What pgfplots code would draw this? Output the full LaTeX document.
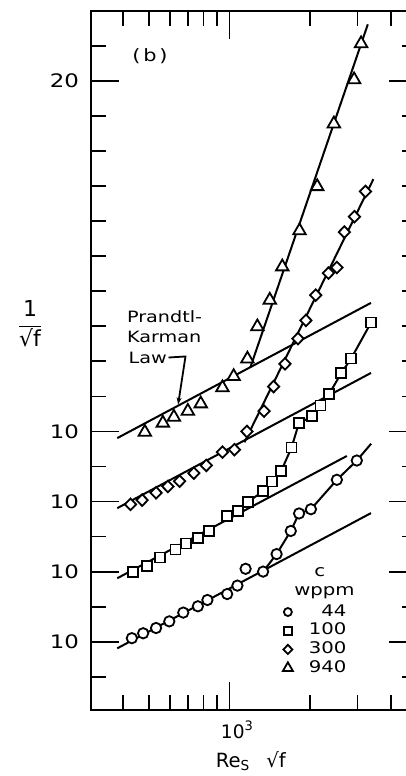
\documentclass[border=0pt]{standalone}
\usepackage{fontspec}
\setmainfont{DejaVu Sans}[FakeStretch=1.23]
\newfontfamily\plain{DejaVu Sans}
\usepackage{pgfplots}
\pgfplotsset{compat=1.18}
\usetikzlibrary{arrows.meta}

\begin{document}
\begin{tikzpicture}
\begin{axis}[
  at={(0,0)}, anchor=south west,
  scale only axis, width=163pt, height=349.5pt,
  clip=false,
  xmode=log, xmin=305, xmax=5000,
  ymin=2.05, ymax=22,
  xtick={1000}, xticklabels={10\textsuperscript{3}},
  minor xtick={400,500,600,700,800,900,2000,3000,4000},
  ytick={4,6,8,10,20}, yticklabels={10,10,10,10,20},
  minor ytick={3,5,7,9,11,12,...,19,21},
  major tick length=14pt, minor tick length=7.5pt,
  tick style={black, line width=0.9pt},
  axis line style={line width=1pt},
  yticklabel style={font=\fontsize{9.3}{11}\selectfont, xshift=-2.5pt},
  xticklabel style={font=\plain\fontsize{9.3}{11}\selectfont, xshift=4pt, yshift=-2pt},
  xlabel={Re\textsubscript{S}\hspace{8pt}√f},
  xlabel style={at={(axis description cs:0.49,-0.082)}, anchor=base,
    font=\plain\fontsize{9.8}{12}\selectfont},
  legend style={draw=none, fill=none, at={(axis description cs:0.791,0.1536)},
    anchor=north east, inner sep=0pt, row sep=0.35pt,
    font=\fontsize{8}{9}\selectfont,
    nodes={inner sep=1pt, text height=5.5pt, text depth=1.5pt},
    /tikz/every odd column/.append style={column sep=7pt}},
  legend cell align=right,
]
% Prandtl-Karman lines
\addplot[black, line width=1pt, forget plot] coordinates {(382,9.81) (3370,13.67)};
\addplot[black, line width=1pt, forget plot] coordinates {(382,7.81) (3370,11.67)};
\addplot[black, line width=1pt, forget plot] coordinates {(382,5.81) (2739,9.30)};
\addplot[black, line width=1pt, forget plot] coordinates {(382,3.81) (3370,7.67)};
% drag reduction branches
\addplot[black, line width=1pt, forget plot] coordinates {(1197,11.83) (3279,21.62)};
\addplot[black, line width=1pt, forget plot] coordinates {(1137,9.69) (3439,17.2)};
\addplot[black, line width=1pt, forget plot] coordinates {
  (1080,7.74) (1172,7.99) (1335,8.29) (1441,8.57) (1561,8.88) (1704,9.54)
  (1816,10.24) (2035,10.43) (2185,10.74) (2353,11.07) (2608,11.66) (2841,12.08) (3373,13.11)};
\addplot[black, line width=1pt, forget plot] coordinates {
  (1335,6.00) (1499,6.50) (1693,7.16) (1818,7.66) (2012,7.78) (2514,8.62) (2983,9.17) (3373,9.65)};

% 44 wppm
\addplot[only marks, mark=*, mark size=2.6pt, mark options={draw=black, fill=white, line width=0.9pt}, forget plot]
  coordinates {(433,4.10) (477,4.24) (533,4.39) (597,4.58) (673,4.83) (763,5.01) (828,5.19)
  (981,5.36) (1071,5.60) (1149,6.08) (1335,6.00) (1499,6.50) (1693,7.16) (1818,7.66)
  (2012,7.78) (2514,8.62) (2983,9.17)};
% 100 wppm
\addplot[only marks, mark=square*, mark size=2.5pt, mark options={draw=black, fill=white, line width=0.9pt}, forget plot]
  coordinates {(437,5.99) (494,6.16) (551,6.40) (630,6.63) (690,6.80) (763,6.97) (838,7.16)
  (981,7.59) (1080,7.74) (1172,7.99) (1335,8.29) (1441,8.57) (1561,8.88) (1704,9.54)
  (1816,10.24) (2035,10.43) (2185,10.74) (2353,11.07) (2608,11.66) (2841,12.08) (3373,13.11)};
% 300 wppm
\addplot[only marks, mark=diamond*, mark size=2.9pt, mark options={draw=black, fill=white, line width=0.9pt, xscale=1.3}, forget plot]
  coordinates {(428,7.92) (473,8.04) (533,8.25) (590,8.43) (652,8.58) (737,8.81) (820,9.03)
  (942,9.41) (1044,9.48) (1162,10.00) (1346,10.58) (1461,11.28) (1611,11.93) (1800,12.65)
  (1928,13.17) (2097,13.89) (2339,14.52) (2514,14.68) (2681,15.69) (2923,16.13) (3212,16.85)};
% 940 wppm
\addplot[only marks, mark=triangle*, mark size=3.6pt, mark options={draw=black, fill=white, line width=0.9pt}, forget plot]
  coordinates {(484,9.98) (565,10.24) (621,10.41) (700,10.58) (782,10.79) (942,11.25)
  (1037,11.57) (1167,12.07) (1271,12.99) (1414,13.75) (1574,14.70) (1825,15.73)
  (2124,16.99) (2450,18.78) (2915,20.04) (3095,21.07)};

\addlegendimage{only marks, mark=o, mark size=2pt, mark options={draw=black, line width=0.9pt}}
\addlegendentry{44}
\addlegendimage{only marks, mark=square, mark size=2pt, mark options={draw=black, line width=0.9pt}}
\addlegendentry{100}
\addlegendimage{only marks, mark=diamond, mark size=2.3pt, mark options={draw=black, line width=0.9pt, xscale=1.3}}
\addlegendentry{300}
\addlegendimage{only marks, mark=triangle, mark size=2.9pt, mark options={draw=black, line width=0.9pt}}
\addlegendentry{940}

\node[anchor=base, font=\fontsize{8}{9}\selectfont] at (axis description cs:0.702,0.1917) {c};
\node[anchor=base, font=\fontsize{8}{9}\selectfont] at (axis description cs:0.716,0.1645) {wppm};
\node[font=\fontsize{8.5}{10}\selectfont] at (axis description cs:0.181,0.936) {(\,b\,)};

\node[anchor=base west, inner sep=0pt, font=\fontsize{7.8}{9}\selectfont] at (axis cs:414,13.11) {Prandtl-};
\node[anchor=base west, inner sep=0pt, font=\fontsize{7.8}{9}\selectfont] at (axis cs:414,12.53) {Karman};
\node[anchor=base west, inner sep=0pt, font=\fontsize{7.8}{9}\selectfont] at (axis cs:420,11.95) {Law};
\draw[black, line width=0.9pt, -{Stealth[length=3.5pt, width=2.5pt]}]
  (axis cs:593,12.11) -- (axis cs:686,12.14) -- (axis cs:644,10.77);

\node[font=\plain\fontsize{11}{13}\selectfont] at (axis description cs:-0.187,0.552)
  {$\displaystyle\frac{\mbox{1}}{\mbox{√f}}$};
\end{axis}
\pgfresetboundingbox
\useasboundingbox (-45.5pt,-33pt) rectangle (157.5pt,355pt);
\end{tikzpicture}
\end{document}
